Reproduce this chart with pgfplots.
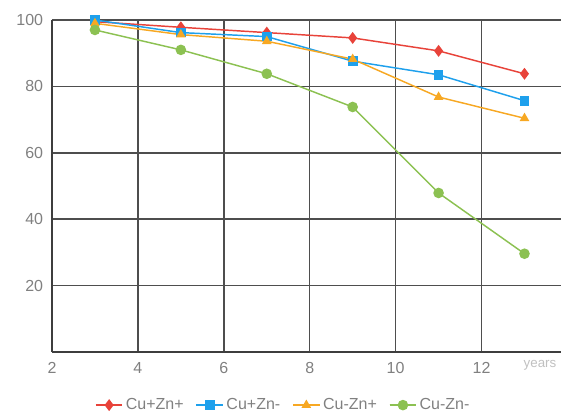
\documentclass[border=0pt]{standalone}
\usepackage{fontspec}
\setmainfont{Liberation Sans}
\usepackage{pgfplots}
\pgfplotsset{compat=1.18}
\definecolor{cred}{HTML}{E8433A}
\definecolor{cblue}{HTML}{1EA0EC}
\definecolor{corange}{HTML}{F7A823}
\definecolor{cgreen}{HTML}{8CC152}
\definecolor{gridc}{HTML}{4E4E4E}
\definecolor{labc}{HTML}{808080}
\begin{document}
\begin{tikzpicture}
\begin{axis}[
    at={(0,0)}, anchor=south west,
    scale only axis,
    width=381.75pt, height=249pt,
    xmin=2, xmax=13.85, ymin=0, ymax=100,
    axis lines=left,
    axis line style={-, draw=gridc!80!black},
    x axis line style={line width=1.8pt},
    y axis line style={line width=1.3pt},
    xtick={2,4,...,12}, ytick={20,40,...,100},
    grid=major,
    major grid style={draw=gridc, line width=1.1pt},
    tick style={draw=none},
    clip=false,
    /pgf/number format/assume math mode=true,
    ticklabel style={font=\fontsize{12}{14}\selectfont, text=labc},
    xticklabel style={yshift=-2pt},
    yticklabel style={xshift=-1pt},
    legend columns=4,
    legend style={at={(0.455,-0.16)}, anchor=center, draw=none, fill=none,
        font=\fontsize{12}{14}\selectfont, text=labc,
        /tikz/every even column/.append style={column sep=7pt},
        /tikz/every odd column/.append style={column sep=0pt}},
    legend image code/.code={
        \draw[#1] (0pt,0pt) -- (20pt,0pt);
        \draw[#1, mark repeat=2, mark phase=2] plot coordinates {(0pt,0pt) (10pt,0pt) (20pt,0pt)};
    },
    every axis plot/.append style={line width=1.1pt},
]
\addplot[cred, mark=diamond*, mark size=3.6pt] coordinates {
    (3,99.5) (5,97.8) (7,96.2) (9,94.6) (11,90.7) (13,83.8)};
\addplot[cblue, mark=square*, mark size=3.1pt] coordinates {
    (3,100) (5,96.2) (7,95.0) (9,87.6) (11,83.5) (13,75.7)};
\addplot[corange, mark=triangle*, mark size=3.1pt] coordinates {
    (3,99.0) (5,95.6) (7,93.6) (9,88.2) (11,76.8) (13,70.4)};
\addplot[cgreen, mark=*, mark size=3.4pt] coordinates {
    (3,97.0) (5,91.0) (7,83.8) (9,73.8) (11,47.9) (13,29.6)};
\legend{Cu+Zn+, Cu+Zn-, Cu-Zn+, Cu-Zn-}
\node[anchor=east, text=labc!50, font=\fontsize{10}{12}\selectfont] at (axis cs:13.85,-3.9) {years};
\end{axis}
\pgfresetboundingbox
\useasboundingbox (-39pt,-48.75pt) rectangle (381.75pt,264pt);
\end{tikzpicture}
\end{document}
